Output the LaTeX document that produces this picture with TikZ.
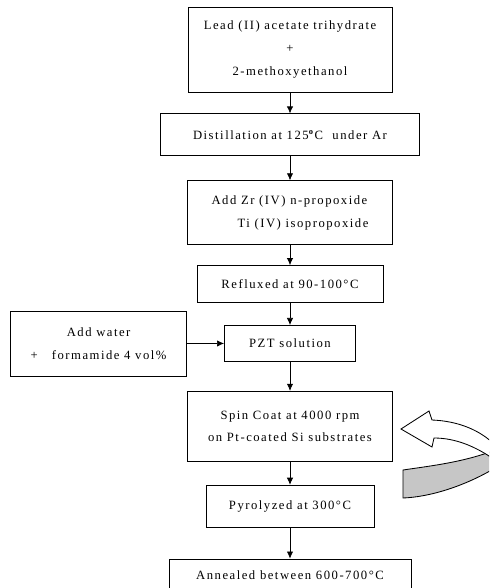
\documentclass[tikz,border=0pt]{standalone}
\usepackage{fontspec}
\setmainfont{Liberation Serif}[LetterSpace=12]
\usetikzlibrary{positioning,arrows.meta}
\begin{document}
\begin{tikzpicture}[x=0.025cm,y=-0.025cm,>={Latex[length=5pt,width=4.5pt]},line width=0.6pt]
\tikzstyle{procbox}=[rectangle,draw,align=center,inner sep=0pt,font=\fontsize{9}{16.3}\selectfont]
\tikzstyle{flow}=[->,line width=0.5pt]
\useasboundingbox (0,0) rectangle (489,588);

\node[procbox,minimum width=5.1cm,minimum height=2.125cm] (lead) at (290,49.5) {Lead (II) acetate trihydrate\\+\\2-methoxyethanol};
\node[procbox,below=0.525cm of lead,minimum width=6.475cm,minimum height=1.05cm] (distil) {Distillation at 125\textsuperscript{\textbf{o}}C\ \ under Ar};
\node[procbox,below=0.6cm of distil,minimum width=5.125cm,minimum height=1.6cm,align=left] (addzr) {Add Zr (IV) n-propoxide\\\hspace*{0.65cm}Ti (IV) isopropoxide};
\node[procbox,below=0.5cm of addzr,minimum width=4.65cm,minimum height=0.925cm] (reflux) {Refluxed at 90-100°C};
\node[procbox,below=0.55cm of reflux,minimum width=3.275cm,minimum height=0.9cm] (pzt) {PZT solution};
\node[procbox,left=0.925cm of pzt,minimum width=4.4cm,minimum height=1.625cm] (water) {Add water\\+\hspace{0.35cm}formamide 4 vol\%};
\node[procbox,below=0.725cm of pzt,minimum width=5.125cm,minimum height=1.75cm] (spin) {Spin Coat at 4000 rpm\\on Pt-coated Si substrates};
\node[procbox,below=0.575cm of spin,minimum width=4.2cm,minimum height=1.05cm] (pyro) {Pyrolyzed at 300°C};
\node[procbox,below=0.775cm of pyro,minimum width=6.05cm,minimum height=0.825cm] (anneal) {Annealed between 600-700°C};

\draw[flow] (lead) -- (distil);
\draw[flow] (distil) -- (addzr);
\draw[flow] (addzr) -- (reflux);
\draw[flow] (reflux) -- (pzt);
\draw[flow] (water) -- (pzt);
\draw[flow] (pzt) -- (spin);
\draw[flow] (spin) -- (pyro);
\draw[flow] (pyro) -- (anneal);

% rotating arrow beside the spin coat step
\begin{scope}
\clip (0,0) rectangle (489,588);
\draw[fill=gray!45] (403,470) .. controls (430,466) and (465,462) .. (495,450) -- (495,468) .. controls (465,486) and (430,497) .. (403,498) -- cycle;
\draw[fill=white] (495,460) .. controls (475,446) and (455,438) .. (434,438) -- (432,447) -- (401,429) -- (429,411) -- (432,420) .. controls (458,421) and (480,430) .. (495,445) -- cycle;
\end{scope}
\end{tikzpicture}
\end{document}
